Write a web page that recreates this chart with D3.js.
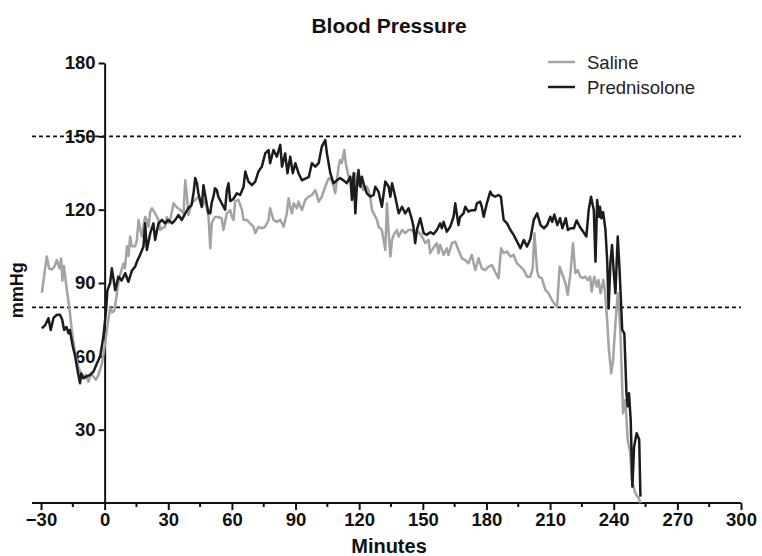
<!DOCTYPE html>
<html>
<head>
<meta charset="utf-8">
<script src="https://cdn.jsdelivr.net/npm/d3@7"></script>
<style>
  body { margin: 0; background: #fff; }
  svg { display: block; }
  .axis text { font-family: "Liberation Sans Narrow", "Liberation Sans", Arial, sans-serif; font-weight: bold; font-size: 18.5px; fill: #111; }
  .axis path, .axis line { stroke: #111; stroke-width: 2; }
</style>
</head>
<body>
<div id="chart"></div>
<script>
// Temps (minutes) et pression (mmHg)
const salineMin = [-29.6,-28.5,-27.3,-26.2,-25,-23.8,-22.5,-21.3,-20.5,-19.9,-19.2,-17.8,-16.6,-15.5,-13.9,-12.4,-11.2,-10,-8.8,-7.6,-6.4,-5.3,-4.1,-2.9,-1.3,0.2,1.4,2.6,3.5,4.5,5.5,6.5,7.5,8.9,9.6,10.5,11.3,12,12.8,14.4,15.2,16,16.8,17.6,18.4,19.1,19.9,20.7,21.5,22.3,23.8,25.4,26.2,27,28.5,29.3,30.1,30.9,32.5,34,35.6,37.2,38,38.8,39.5,41,42.7,44.2,45.8,47.4,49,49.8,50.5,52,53.6,55.2,56,57.6,59.2,60,60.8,61.5,63.1,64.7,65.5,67,68.6,70.2,71,72.5,74.1,75.7,77.3,78,79.6,81.2,82.8,84.4,85.9,86.7,87.5,88.3,89.1,90.6,91.4,93,94.6,96.2,97.7,99.3,100.9,102.4,104,105.6,107.1,108,108.7,110.3,111,111.8,113,113.7,115,116.6,118.2,118.9,120.5,122,123.6,124.4,125.2,126,126.8,128.4,129.1,130.7,131.5,132.3,133.1,133.9,134.7,135.5,136.3,137.8,138.6,140.2,141.7,143.3,144.9,146.4,148,149.6,151.2,152.7,153.5,155.1,156.6,157.4,158.2,159.8,161.3,162.1,163.7,165.3,166.8,168.4,170,171.5,173.1,174.7,176.3,177.8,179.4,181,182.6,184.1,185.7,186.9,188.1,189.7,191.3,192.8,194.4,196,197.6,199.1,200.7,201.8,202.6,203.9,204.6,206.1,207.8,209.3,210.9,212.5,213.3,214.5,215.6,217.2,218.3,219.5,220.8,221.9,223,224.2,225.5,226.6,227.7,228.9,229.6,230.8,232,232.8,233.8,235.1,235.8,236.9,237.6,238.8,239.7,240.8,241.9,243.1,244.4,245.5,246.6,247.8,248.5,250.2,251.8,252.6];
const salineMmHg = [86,93,100.8,96,95.5,96.5,99.4,96,100,91,97,87,79.6,70.8,61,55.8,53,51.7,52.5,49.6,53,51.7,50.5,52.4,57,65,73,79.7,78,78.6,84,90,94,98,96,105,101,109,105,105,107.6,115.8,112,109,114,117,115.8,113,119.2,120.6,118.5,115.8,111.7,112.4,113,117,114.5,115.8,122.6,121,120,118.5,132,125.5,117.8,122.6,124,125.3,121,124,117,104.2,114.6,117,117,116.4,111.7,118.5,119.8,117,115.8,123.5,124,120,115.8,115.8,114.4,113,110.4,113,112.4,113,115.8,120.6,115.8,115,115.8,113,118.5,124.7,121.2,118.5,122.6,120.6,123.3,119.8,124,125.3,126,128,123.3,125.3,129.4,132.9,132,129.4,126.7,137.6,140.3,139,144.4,139,133.5,132,134.9,129.4,130.8,128,129.4,128,125.3,120,118.5,115.8,113,111.7,107.6,103.5,122.6,110.4,100.8,107.6,109.7,111.7,109,111.7,110.4,111.7,111.7,109.7,111,109,106.3,107.6,102.2,104.5,106.3,102.2,105.6,101.5,104.2,101.5,106.3,106.9,103.5,100.1,99.4,98,101.5,95.3,100.1,96,95.3,96.7,97.3,94.6,91.9,104.2,102.2,102.9,100.8,101.5,98,96.7,95.3,92.6,92.6,96,110.4,95,92.6,91.9,87.2,85.8,83,81,80.3,96.7,94,90,85.2,93.2,106.3,94,95.3,92.6,92,92.6,91.2,92.6,86.5,92.6,88.5,91.2,85.8,91.2,87.2,74.9,64,53,58.4,73.6,85.8,71.5,36.7,42.1,25.8,20.4,9.4,4,1.9,0];

const predMin = [-29.6,-28,-26.5,-25.4,-24.1,-22.5,-21,-20,-19.1,-18,-17,-16.4,-15,-13.9,-12.8,-11.6,-11,-10,-8.7,-6.8,-5.3,-3.7,-2.1,-0.6,0.7,1.3,2.6,3.4,5,6.5,8,9.7,11.2,12.8,14.4,15.2,16.7,18.3,19.1,19.9,21.5,23,23.8,25.4,27,28.5,30,31.8,33.3,34.8,36.4,38,39.5,41,41.9,42.7,43.5,44.2,45.8,46.6,48.2,49,49.8,50.5,51.3,52,52.9,53.6,55.2,56.8,57.6,58.4,59.2,60.8,62.3,63.9,65.5,66.3,67.8,69.4,71,72.5,74.1,75.7,77.3,78,79.6,81.2,82.8,83.6,85.1,86.2,87.5,88.7,89.9,91.4,93,94.6,96.2,97.7,99.3,100.9,102.4,104,104.8,106.4,107.9,109.5,111,112.6,114.2,115.8,116.6,117.4,118.2,118.9,119.7,120.5,121.3,122,123.6,125.2,126.8,127.6,129.1,130.7,132.3,133.9,134.7,135.5,137,138.6,140.2,141.7,143.3,144.9,145.6,146.4,147.2,148.8,150.4,151.9,153.5,155.1,156.6,158.2,159,159.8,161.3,162.9,164.5,165.3,166.8,167.6,169.2,170,171.5,173.1,174.7,175.5,177,177.8,178.7,180.2,181.8,182.6,184.1,185.7,186.8,188.1,189.7,191.3,192.8,194.4,196,197.6,199.1,200.7,202.3,203.9,205.5,207.1,208.6,210.1,211,212,213.4,214.7,215.8,217.4,218.4,219.7,221.2,222.5,224,225.6,227.1,228.2,229.3,230.6,231.4,232.2,233,233.5,234.2,235,236.1,236.9,237.6,238.4,239.2,240,240.8,241.9,242.8,244,245,246,246.6,247.2,248,248.8,249.6,250.8,252,252.6];
const predMmHg = [71.5,72.8,75.6,70.8,75.7,77,77,75,70.8,72,69.4,70.8,64,60,54.4,49,53,51,51.7,52.4,53.7,57,60,68,79,87,90,96,87,92.6,91,94,90.5,95,96.7,98.7,101.5,104.9,114.4,103.5,110.4,114.4,107.6,114.4,115.8,114.4,115.8,114.4,115.8,117.8,115.8,118.5,120.6,122,126.7,133,130.8,126.7,121.2,130,122,118.5,118.5,123,125.3,128.8,128,125.3,122.6,120,128,130.8,123.5,124.5,126.7,126,129.4,135.6,131.5,130,131.5,135.6,137.6,143,144.4,139,144.4,141.7,146.5,137.6,143,134.9,141.7,134.9,139,134.9,132,132.7,133.3,139,137.6,139,145.8,148.5,143,134.9,130.8,132,132.9,132,130.8,133.5,124,134.9,118.5,129.4,136.2,129.4,133.5,130.8,126.7,125.3,126,129.4,127.4,121.2,131.5,129.4,125.3,130.8,125.3,118.5,121.2,118.5,120.6,115.8,113,106.3,111.7,116.5,110.4,109.7,110.8,110,111.7,114.4,112.4,115,111,113,117.1,122.6,113.7,117.1,118.5,121.2,119.2,119.8,119.8,122.6,123.3,121.2,117.1,122.6,127.4,126,125.3,126,125.3,115.8,114.4,111.7,109.7,107,104.2,107.6,104.9,108,115.8,118.5,113.7,112.4,113.7,117.1,115,118,113.7,116.5,112.4,116.5,111.7,112.4,112.4,115.6,113,111,109,119.9,125.3,119.9,98.7,124,117,121.2,116.5,119,111.7,99.4,79.6,98,105.5,94.6,85.8,109,94.6,70.8,69.4,44.9,39.5,44.9,34,6.7,23,28.5,26,2.6];

const majorTicksX = d3.range(-30, 301, 30);
const minorTicksX = d3.range(-15, 300, 30);
const ticksY = [30, 60, 90, 120, 150, 180];
const refLines = [150, 80];
const seriesNames = ["Saline", "Prednisolone"];
const seriesColors = ["#a3a3a3", "#1c1c1c"];

const W = 762, H = 556;
const svg = d3.select("#chart").append("svg")
    .attr("width", W)
    .attr("height", H);

const x = d3.scaleLinear().domain([-30, 300]).range([41, 741]);
const y = d3.scaleLinear().domain([0, 180]).range([503, 63]);
const xLeft = x(-30) - 9; // l'axe X dépasse un peu à gauche

// Titre
svg.append("text")
    .attr("x", 389)
    .attr("y", 33)
    .attr("text-anchor", "middle")
    .attr("font-family", "Liberation Sans, Arial, sans-serif")
    .attr("font-weight", "bold")
    .attr("font-size", "21px")
    .attr("fill", "#111")
    .text("Blood Pressure");

// Lignes pointillées de référence
svg.selectAll(".ref")
    .data(refLines)
    .enter().append("line")
    .attr("class", "ref")
    .attr("x1", xLeft)
    .attr("x2", x(300))
    .attr("y1", d => y(d))
    .attr("y2", d => y(d))
    .attr("stroke", "#111")
    .attr("stroke-width", 1.8)
    .attr("stroke-dasharray", "4,3");

// Axe X
const gx = svg.append("g")
    .attr("class", "axis")
    .attr("transform", `translate(0,${y(0)})`)
    .call(d3.axisBottom(x).tickValues(majorTicksX).tickSize(7).tickSizeOuter(0).tickPadding(3));
gx.select(".domain").remove();
gx.append("line")
    .attr("x1", xLeft)
    .attr("x2", x(300))
    .attr("stroke", "#111")
    .attr("stroke-width", 2);
gx.selectAll(".minor")
    .data(minorTicksX)
    .enter().append("line")
    .attr("class", "minor")
    .attr("x1", d => x(d))
    .attr("x2", d => x(d))
    .attr("y1", 0)
    .attr("y2", 4);

// Axe Y
svg.append("g")
    .attr("class", "axis")
    .attr("transform", `translate(${x(0)},0)`)
    .call(d3.axisLeft(y).tickValues(ticksY).tickSize(6).tickSizeOuter(0).tickPadding(3));

// Titres des axes
svg.append("text")
    .attr("x", 389)
    .attr("y", 553)
    .attr("text-anchor", "middle")
    .attr("font-family", "Liberation Sans Narrow, Liberation Sans, Arial, sans-serif")
    .attr("font-weight", "bold")
    .attr("font-size", "20px")
    .attr("fill", "#111")
    .text("Minutes");

svg.append("text")
    .attr("transform", `translate(23,${y(87)}) rotate(-90)`)
    .attr("text-anchor", "middle")
    .attr("font-family", "Liberation Sans Narrow, Liberation Sans, Arial, sans-serif")
    .attr("font-weight", "bold")
    .attr("font-size", "18px")
    .attr("fill", "#111")
    .text("mmHg");

// Courbes
const series = [
    { t: salineMin, v: salineMmHg },
    { t: predMin, v: predMmHg }
];
const line = d3.line().x(d => x(d[0])).y(d => y(d[1]));
series.forEach((s, i) => {
    svg.append("path")
        .attr("d", line(s.t.map((t, j) => [t, s.v[j]])))
        .attr("fill", "none")
        .attr("stroke", seriesColors[i])
        .attr("stroke-width", 2.5)
        .attr("stroke-linejoin", "round");
});

// Légende
const legend = svg.append("g").attr("transform", "translate(548,62)");
seriesNames.forEach((name, i) => {
    legend.append("line")
        .attr("x1", 0).attr("x2", 27)
        .attr("y1", i * 25).attr("y2", i * 25)
        .attr("stroke", seriesColors[i])
        .attr("stroke-width", 2.5);
    legend.append("text")
        .attr("x", 39)
        .attr("y", i * 25 + 6.5)
        .attr("font-family", "Liberation Sans, Arial, sans-serif")
        .attr("font-size", "18.5px")
        .attr("fill", "#222")
        .text(name);
});
</script>
</body>
</html>
